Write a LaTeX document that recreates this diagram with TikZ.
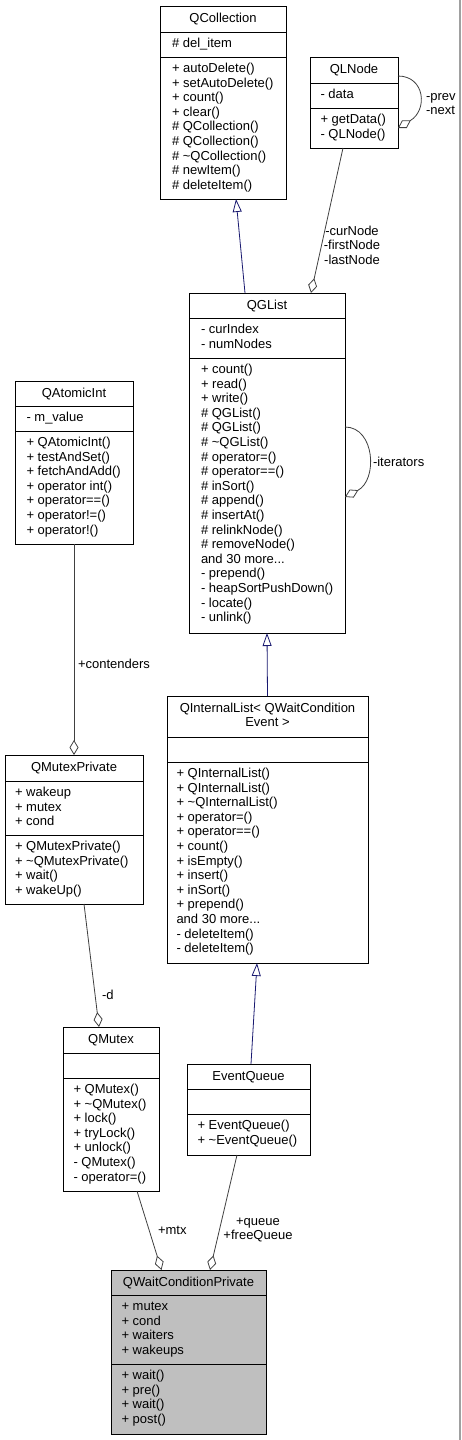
\documentclass[tikz,border=0pt]{standalone}
\usepackage{fontspec}
\setmainfont{Liberation Sans}
\usetikzlibrary{arrows.meta,calc}
\definecolor{edgegray}{HTML}{404040}
\definecolor{inhblue}{HTML}{191970}
\definecolor{selgray}{HTML}{BFBFBF}
\definecolor{framegray}{HTML}{A0A0A0}
\newcommand\threedots{.{}.{}.}
\tikzset{
  cls/.style={draw=black,line width=0.9pt,fill=white,inner sep=0pt,outer sep=0pt,rectangle},
  clsfocus/.style={cls,fill=selgray},
  sepline/.style={draw=black,line width=0.9pt},
  txt/.style={inner sep=0pt,outer sep=0pt,font=\fontsize{13}{14.6}\selectfont},
  lbl/.style={txt,align=center},
  agg/.style={draw=edgegray,line width=0.8pt,-{Diamond[length=15pt,width=9pt,fill=white]}},
  inh/.style={draw=inhblue,line width=0.8pt,-{Triangle[length=13pt,width=9pt,fill=white]}},
}
% name, x1, y1, x2, y2, sep1, sep2, style
\newcommand\umlbox[8]{%
  \node[#8,minimum width={(#4)-(#2)},minimum height={(#5)-(#3)},anchor=north west] (#1) at (#2,#3) {};
  \draw[sepline] (#2,#6) -- (#4,#6);
  \draw[sepline] (#2,#7) -- (#4,#7);
}
% prefix, x, first baseline, list
\newcommand\umllines[4]{%
  \foreach \itm [count=\i from 0] in {#4} {\node[txt,anchor=base west] (#1\i) at (#2,{#3+\i*14.6}) {\itm};}
}
\begin{document}
\begin{tikzpicture}[x=1pt,y=-1pt]
\fill[white] (0,0) rectangle (461,1440);
\useasboundingbox (0,0) rectangle (461,1440);
\draw[framegray,line width=1.5pt] (460.2,0) -- (460.2,1440);

% QCollection
\umlbox{qc}{160}{6}{286}{199}{32}{57}{cls}
\node[txt,anchor=base] (qct) at (223,22) {QCollection};
\umllines{qca}{172}{47.5}{{\# del\_item}}
\umllines{qcm}{172}{72.5}{{+ autoDelete()},{+ setAutoDelete()},{+ count()},{+ clear()},{\# QCollection()},{\# QCollection()},{\# \textasciitilde QCollection()},{\# newItem()},{\# deleteItem()}}

% QLNode
\umlbox{qln}{310}{57}{398}{148}{83}{108}{cls}
\node[txt,anchor=base] (qlnt) at (354,73) {QLNode};
\umllines{qlna}{320.5}{98.5}{{- data}}
\umllines{qlnm}{320.5}{123.5}{{+ getData()},{- QLNode()}}

% QGList
\umlbox{qgl}{189}{293}{345}{633}{318}{358}{cls}
\node[txt,anchor=base] (qglt) at (267,309) {QGList};
\umllines{qgla}{201}{333.5}{{- curIndex},{- numNodes}}
\umllines{qglm}{201}{373.5}{{+ count()},{+ read()},{+ write()},{\# QGList()},{\# QGList()},{\# \textasciitilde QGList()},{\# operator=()},{\# operator==()},{\# inSort()},{\# append()},{\# insertAt()},{\# relinkNode()},{\# removeNode()},{and 30 more\threedots},{- prepend()},{- heapSortPushDown()},{- locate()},{- unlink()}}

% QAtomicInt
\umlbox{qai}{15}{381}{133}{544}{406}{431}{cls}
\node[txt,anchor=base] (qait) at (74,397) {QAtomicInt};
\umllines{qaia}{26.5}{421.5}{{- m\_value}}
\umllines{qaim}{26.5}{446.5}{{+ QAtomicInt()},{+ testAndSet()},{+ fetchAndAdd()},{+ operator int()},{+ operator==()},{+ operator!=()},{+ operator!()}}

% QMutexPrivate
\umlbox{qmp}{5}{755}{143}{904}{781}{835}{cls}
\node[txt,anchor=base] (qmpt) at (74,771) {QMutexPrivate};
\umllines{qmpa}{15}{796.5}{{+ wakeup},{+ mutex},{+ cond}}
\umllines{qmpm}{15}{850.5}{{+ QMutexPrivate()},{+ \textasciitilde QMutexPrivate()},{+ wait()},{+ wakeUp()}}

% QInternalList
\umlbox{qil}{167}{696}{368}{963}{737}{762}{cls}
\node[txt,anchor=base] (qilt1) at (267.5,712) {QInternalList< QWaitCondition};
\node[txt,anchor=base] (qilt2) at (267.5,726.6) {Event >};
\umllines{qilm}{176.5}{777.5}{{+ QInternalList()},{+ QInternalList()},{+ \textasciitilde QInternalList()},{+ operator=()},{+ operator==()},{+ count()},{+ isEmpty()},{+ insert()},{+ inSort()},{+ prepend()},{and 30 more\threedots},{- deleteItem()},{- deleteItem()}}

% QMutex
\umlbox{qm}{63}{1027}{159}{1191}{1053}{1078}{cls}
\node[txt,anchor=base] (qmt) at (111,1043) {QMutex};
\umllines{qmm}{73.5}{1093.5}{{+ QMutex()},{+ \textasciitilde QMutex()},{+ lock()},{+ tryLock()},{+ unlock()},{- QMutex()},{- operator=()}}

% EventQueue
\umlbox{eq}{187}{1064}{310}{1155}{1089}{1114}{cls}
\node[txt,anchor=base] (eqt) at (248.5,1080) {EventQueue};
\umllines{eqm}{197.5}{1129.5}{{+ EventQueue()},{+ \textasciitilde EventQueue()}}

% QWaitConditionPrivate
\umlbox{qw}{111}{1270}{266}{1434}{1295}{1364}{clsfocus}
\node[txt,anchor=base] (qwt) at (188.5,1286) {QWaitConditionPrivate};
\umllines{qwa}{121.5}{1310.5}{{+ mutex},{+ cond},{+ waiters},{+ wakeups}}
\umllines{qwm}{121.5}{1379.5}{{+ wait()},{+ pre()},{+ wait()},{+ post()}}

% inheritance
\draw[inh] ([xshift=-22pt]qgl.north) -- ([xshift=13pt]qc.south);
\draw[inh] (qil.north) -- (qgl.south);
\draw[inh] ([xshift=2.5pt]eq.north) -- ([xshift=-10.5pt]qil.south);

% aggregation
\draw[agg] ([xshift=-11pt]qln.south) -- ([xshift=44pt]qgl.north);
\draw[agg] ([yshift=26.5pt]qln.east) .. controls (425,76) and (428,110) .. ([yshift=-25.5pt]qln.east);
\draw[agg] ([yshift=36pt]qgl.east) .. controls (375,427) and (378,480) .. ([yshift=-34pt]qgl.east);
\draw[agg] (qai.south) -- (qmp.north);
\draw[agg] ([xshift=10pt]qmp.south) -- ([xshift=-12pt]qm.north);
\draw[agg] ([xshift=26pt]qm.south) -- ([xshift=-27pt]qw.north);
\draw[agg] ([xshift=-11.5pt]eq.south) -- ([xshift=21.5pt]qw.north);

% labels
\node[lbl,align=left,anchor=west] (lprev) at (426,104) {-prev\\-next};
\node[lbl] (lnodes) at (352,245) {-curNode\\-firstNode\\-lastNode};
\node[lbl,anchor=west] (liter) at (373,462) {-iterators};
\node[lbl,anchor=west] (lcont) at (78,664) {+contenders};
\node[lbl,anchor=west] (ld) at (102,995) {-d};
\node[lbl,anchor=west] (lmtx) at (158,1230) {+mtx};
\node[lbl] (lq) at (258,1230) {+queue\\+freeQueue};
\end{tikzpicture}
\end{document}
